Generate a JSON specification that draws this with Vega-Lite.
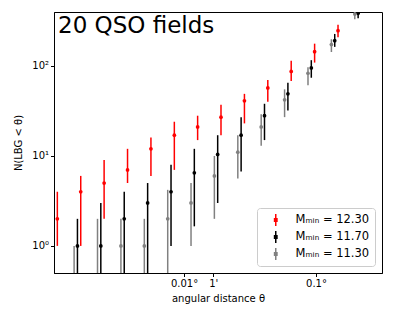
{
  "$schema": "https://vega.github.io/schema/vega-lite/v6.json",
  "width": 328,
  "height": 261,
  "autosize": {"type": "none"},
  "padding": {"left": 54, "top": 12, "right": 12, "bottom": 46},
  "background": "white",
  "title": {
    "text": "20 QSO fields",
    "anchor": "start",
    "frame": "group",
    "orient": "top",
    "baseline": "alphabetic",
    "offset": -44,
    "dx": 4,
    "font": "DejaVu Sans",
    "fontSize": 23,
    "fontWeight": "normal",
    "color": "black"
  },
  "config": {
    "view": {"stroke": "black", "strokeWidth": 1},
    "axis": {
      "grid": false,
      "domainColor": "black",
      "tickColor": "black",
      "labelColor": "black",
      "titleColor": "black",
      "labelFont": "DejaVu Sans",
      "titleFont": "DejaVu Sans",
      "labelFontSize": 10,
      "titleFontSize": 10,
      "titleFontWeight": "normal",
      "tickSize": 3.5,
      "labelPadding": 2
    },
    "legend": {
      "labelFont": "DejaVu Sans",
      "labelFontSize": 11.5,
      "labelColor": "black"
    }
  },
  "data": {
    "values": [
      {"s": "12.30", "x": 0.001097, "y": 2, "lo": 1, "hi": 4},
      {"s": "12.30", "x": 0.001650, "y": 4, "lo": 1, "hi": 6},
      {"s": "12.30", "x": 0.002481, "y": 5, "lo": 2, "hi": 9},
      {"s": "12.30", "x": 0.003733, "y": 7, "lo": 5, "hi": 12},
      {"s": "12.30", "x": 0.005615, "y": 12, "lo": 6, "hi": 16},
      {"s": "12.30", "x": 0.008445, "y": 17, "lo": 7, "hi": 24},
      {"s": "12.30", "x": 0.01268, "y": 21, "lo": 15, "hi": 28},
      {"s": "12.30", "x": 0.01906, "y": 27, "lo": 17, "hi": 37},
      {"s": "12.30", "x": 0.02869, "y": 41, "lo": 23, "hi": 49},
      {"s": "12.30", "x": 0.04313, "y": 57, "lo": 40, "hi": 70},
      {"s": "12.30", "x": 0.06487, "y": 87, "lo": 68, "hi": 114},
      {"s": "12.30", "x": 0.09759, "y": 144, "lo": 109, "hi": 177},
      {"s": "12.30", "x": 0.1468, "y": 247, "lo": 208, "hi": 288},
      {"s": "11.70", "x": 0.001558, "y": 1, "lo": 0.1, "hi": 2},
      {"s": "11.70", "x": 0.002342, "y": 1, "lo": 0.1, "hi": 3},
      {"s": "11.70", "x": 0.003524, "y": 2, "lo": 0.1, "hi": 4},
      {"s": "11.70", "x": 0.005301, "y": 3, "lo": 0.1, "hi": 5},
      {"s": "11.70", "x": 0.007972, "y": 4, "lo": 1, "hi": 8},
      {"s": "11.70", "x": 0.01197, "y": 6.5, "lo": 1.65, "hi": 12},
      {"s": "11.70", "x": 0.01799, "y": 10.4, "lo": 3, "hi": 17},
      {"s": "11.70", "x": 0.02708, "y": 17, "lo": 6.7, "hi": 27},
      {"s": "11.70", "x": 0.04071, "y": 28, "lo": 15, "hi": 38},
      {"s": "11.70", "x": 0.06124, "y": 49, "lo": 32, "hi": 65},
      {"s": "11.70", "x": 0.09212, "y": 95, "lo": 74, "hi": 116},
      {"s": "11.70", "x": 0.1386, "y": 191, "lo": 163, "hi": 227},
      {"s": "11.70", "x": 0.2085, "y": 385, "lo": 339, "hi": 450},
      {"s": "11.30", "x": 0.001470, "y": null, "lo": 0.1, "hi": 1},
      {"s": "11.30", "x": 0.002211, "y": null, "lo": 0.1, "hi": 2},
      {"s": "11.30", "x": 0.003326, "y": 1, "lo": 0.1, "hi": 2},
      {"s": "11.30", "x": 0.005003, "y": 1, "lo": 0.1, "hi": 2},
      {"s": "11.30", "x": 0.007524, "y": 2, "lo": 0.1, "hi": 4.2},
      {"s": "11.30", "x": 0.01130, "y": 3, "lo": 1, "hi": 5},
      {"s": "11.30", "x": 0.01698, "y": 6, "lo": 2, "hi": 10},
      {"s": "11.30", "x": 0.02556, "y": 11, "lo": 5.6, "hi": 17},
      {"s": "11.30", "x": 0.03843, "y": 21, "lo": 13, "hi": 29},
      {"s": "11.30", "x": 0.05780, "y": 42, "lo": 27, "hi": 55},
      {"s": "11.30", "x": 0.08695, "y": 83, "lo": 61, "hi": 97},
      {"s": "11.30", "x": 0.1308, "y": 173, "lo": 143, "hi": 198},
      {"s": "11.30", "x": 0.1967, "y": 378, "lo": 330, "hi": 430}
    ]
  },
  "encoding": {
    "x": {
      "field": "x",
      "type": "quantitative",
      "scale": {"type": "log", "domain": [0.001035, 0.3162], "nice": false},
      "axis": {
        "title": "angular distance θ",
        "values": [0.01, 0.0166667, 0.1],
        "labelExpr": "datum.value == 0.01 ? '0.01°' : (datum.value < 0.05 ? \"1'\" : '0.1°')",
        "titlePadding": 5
      }
    },
    "color": {
      "field": "s",
      "type": "nominal",
      "scale": {"domain": ["12.30", "11.70", "11.30"], "range": ["#ff0000", "#000000", "#808080"]},
      "legend": {
        "title": null,
        "orient": "bottom-right",
        "offset": 7,
        "labelExpr": "'Mₘᵢₙ = ' + datum.label",
        "symbolType": "M0,-2L0,2M-0.4,-0.4L0.4,-0.4L0.4,0.4L-0.4,0.4Z",
        "symbolSize": 36,
        "symbolStrokeWidth": 1.5,
        "symbolOffset": 8,
        "fillColor": "white",
        "strokeColor": "#cccccc",
        "cornerRadius": 3,
        "padding": 5,
        "rowPadding": 3,
        "clipHeight": 14,
        "labelOffset": 14,
        "encode": {
          "symbols": {
            "update": {
              "fill": {"scale": "color", "field": "value"},
              "stroke": {"scale": "color", "field": "value"}
            }
          }
        }
      }
    }
  },
  "layer": [
    {
      "mark": {"type": "rule", "strokeWidth": 1.5, "clip": true},
      "encoding": {
        "y": {
          "field": "lo",
          "type": "quantitative",
          "scale": {"type": "log", "domain": [0.5, 398], "nice": false},
          "axis": {
            "title": "N(LBG < θ)",
            "values": [1, 10, 100],
            "labelExpr": "datum.value == 1 ? '10⁰' : (datum.value == 10 ? '10¹' : '10²')",
            "titlePadding": 8
          }
        },
        "y2": {"field": "hi"}
      }
    },
    {
      "mark": {"type": "point", "filled": true, "shape": "circle", "size": 14, "opacity": 1, "clip": true},
      "encoding": {
        "y": {"field": "y", "type": "quantitative"}
      }
    }
  ]
}
